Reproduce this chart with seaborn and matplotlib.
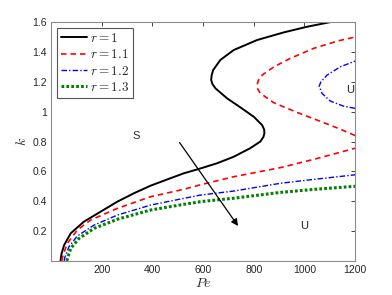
import numpy as np
import pandas as pd
import seaborn as sns
import matplotlib
matplotlib.use('Agg')
import matplotlib.pyplot as plt

# Curves, k (vertical) and Pe (horizontal)
black_k = [0.0, 0.02, 0.05, 0.106, 0.185, 0.263, 0.33, 0.397, 0.453, 0.504, 0.546, 0.587, 0.616,
           0.654, 0.698, 0.754, 0.80, 0.83, 0.855, 0.88, 0.91, 0.966, 1.029, 1.089, 1.156, 1.185,
           1.212, 1.245, 1.279, 1.346, 1.413, 1.48, 1.531, 1.569, 1.602]
black_pe = [38, 39, 42, 52, 78, 130, 196, 262, 327, 393, 459, 524, 583,
            655, 721, 785, 826, 838, 842, 841, 833, 800, 747, 695, 649, 637,
            632, 634, 640, 668, 721, 813, 918, 1010, 1108]

red_low_k = [0.0, 0.02, 0.06, 0.118, 0.207, 0.274, 0.352, 0.43, 0.48, 0.51, 0.564, 0.625, 0.68, 0.755]
red_low_pe = [43, 45, 52, 65, 104, 157, 262, 393, 524, 590, 721, 905, 1036, 1200]
red_up_k = [0.84, 0.888, 0.944, 0.999, 1.06, 1.123, 1.15, 1.178, 1.21, 1.245, 1.30, 1.357, 1.424, 1.475, 1.50]
red_up_pe = [1200, 1134, 1049, 965, 879, 826, 816, 813, 818, 833, 879, 944, 1036, 1134, 1200]

blue_low_k = [0.0, 0.02, 0.095, 0.167, 0.24, 0.307, 0.374, 0.419, 0.441, 0.468, 0.52, 0.546, 0.577]
blue_low_pe = [52, 54, 71, 104, 170, 262, 393, 524, 590, 721, 905, 1036, 1200]
blue_up_k = [1.022, 1.037, 1.071, 1.123, 1.171, 1.20, 1.245, 1.30, 1.339]
blue_up_pe = [1200, 1154, 1102, 1069, 1058, 1065, 1089, 1141, 1200]

green_k = [0.0, 0.017, 0.084, 0.151, 0.218, 0.279, 0.341, 0.379, 0.397, 0.42, 0.459, 0.479, 0.50]
green_pe = [63, 65, 78, 111, 170, 262, 393, 524, 590, 721, 905, 1036, 1200]

x_ticks = [200, 400, 600, 800, 1000, 1200]
y_ticks = [0.2, 0.4, 0.6, 0.8, 1.0, 1.2, 1.4, 1.6]
y_tick_labels = ['0.2', '0.4', '0.6', '0.8', '1', '1.2', '1.4', '1.6']

sns.set_style('white')
plt.rcParams['font.family'] = ['Liberation Sans', 'DejaVu Sans']
plt.rcParams['mathtext.fontset'] = 'cm'

fig = plt.figure(figsize=(3.92, 2.95), dpi=100)
ax = fig.add_axes([0.130, 0.1156, 0.776, 0.8094])

styles = {
    'black': dict(color='black', lw=1.4, linestyle='-'),
    'red': dict(color='red', lw=1.2, linestyle=(0, (3.3, 2.4))),
    'blue': dict(color='blue', lw=1.0, linestyle=(0, (4, 1.5, 1, 1.5))),
    'green': dict(color='green', lw=2.2, linestyle=(0, (0.9, 0.7))),
}

def draw(k, pe, key, label=None):
    d = pd.DataFrame({'Pe': pe, 'k': k})
    sns.lineplot(data=d, x='Pe', y='k', sort=False, estimator=None, ax=ax,
                 label=label, **styles[key])

draw(black_k, black_pe, 'black', r'$r = 1$')
draw(red_low_k, red_low_pe, 'red', r'$r = 1.1$')
draw(red_up_k, red_up_pe, 'red')
draw(blue_low_k, blue_low_pe, 'blue', r'$r = 1.2$')
draw(blue_up_k, blue_up_pe, 'blue')
draw(green_k, green_pe, 'green', r'$r = 1.3$')

ax.set_xlim(0, 1200)
ax.set_ylim(0, 1.6)
ax.set_xticks(x_ticks)
ax.set_xticklabels([str(t) for t in x_ticks])
ax.set_yticks(y_ticks)
ax.set_yticklabels(y_tick_labels)
ax.tick_params(direction='in', length=3, width=0.6, colors='#262626', labelsize=7.5,
               top=True, right=True, pad=3)
for s in ax.spines.values():
    s.set_color('#8c8c8c')
    s.set_linewidth(0.8)

ax.set_xlabel(r'$Pe$', fontsize=10, labelpad=1, color='#262626')
ax.set_ylabel(r'$k$', fontsize=10, labelpad=2, color='#262626')

ax.text(336, 0.836, 'S', ha='center', va='center', fontsize=8)
ax.text(999, 0.234, 'U', ha='center', va='center', fontsize=8)
ax.text(1180, 1.145, 'U', ha='center', va='center', fontsize=8)
ax.annotate('', xy=(738, 0.234), xytext=(507, 0.794),
            arrowprops=dict(arrowstyle='-|>', color='black', lw=0.9,
                            mutation_scale=10, shrinkA=0, shrinkB=0))

leg = ax.legend(loc='upper left', fontsize=9.5, handlelength=2.0, handletextpad=0.2,
                labelspacing=0.25, borderpad=0.3, borderaxespad=0.45, fancybox=False,
                framealpha=1)
leg.get_frame().set_edgecolor('#555555')
leg.get_frame().set_linewidth(0.8)

fig.savefig('out.png', dpi=100)
